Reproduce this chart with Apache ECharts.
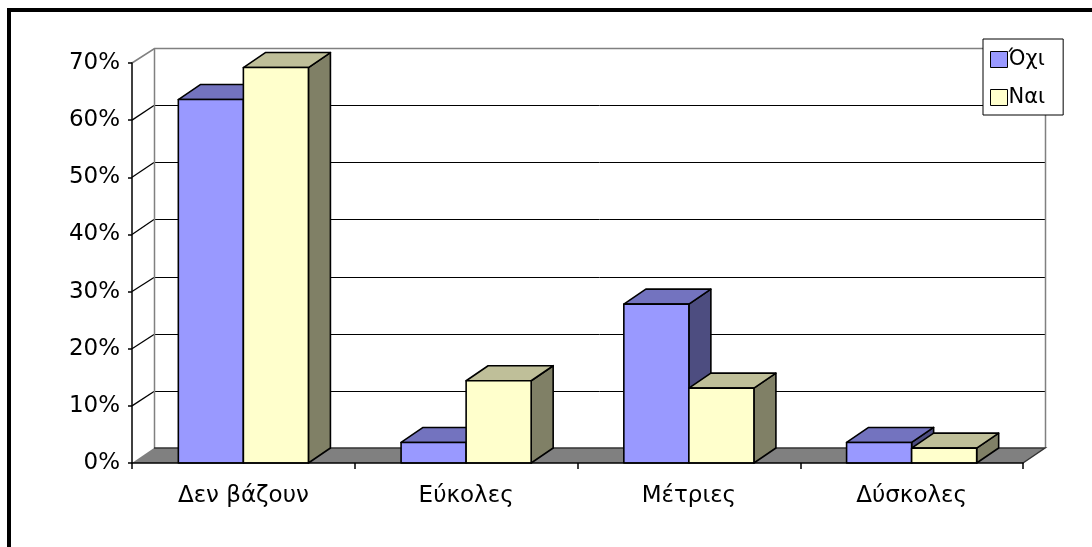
<!DOCTYPE html>
<html>
<head>
<meta charset="utf-8">
<script src="https://cdn.jsdelivr.net/npm/echarts@6/dist/echarts.min.js"></script>
<style>
  html, body { margin: 0; padding: 0; background: #fff; }
  #chart { width: 1092px; height: 547px; }
</style>
</head>
<body>
<div id="chart"></div>
<script>
// Categories and shares (percent) per answer
const categories = ['Δεν βάζουν', 'Εύκολες', 'Μέτριες', 'Δύσκολες'];
const seriesNames = ['Όχι', 'Ναι'];
const valuesOxi = [63.6, 3.6, 27.8, 3.6];
const valuesNai = [69.2, 14.4, 13.1, 2.6];
const yTickValues = [0, 10, 20, 30, 40, 50, 60, 70];

// 3D look: depth offset of the walls and bars
const DX = 22, DY = 15;
const BAR_FRACTION = 0.292;
const FONT = 'DejaVu Sans, Liberation Sans, sans-serif';

const palette = [
  { front: '#9999FF', top: '#7373BF', side: '#4D4D80' },
  { front: '#FFFFCC', top: '#BFBF99', side: '#808066' }
];

const crisp = v => Math.round(v) + 0.5;

function barRenderer(idx) {
  const c = palette[idx];
  return function (params, api) {
    const cat = api.value(0), val = api.value(1);
    const band = api.size([1, 0])[0];
    const bw = band * BAR_FRACTION;
    const base = api.coord([cat, 0]);
    const tp = api.coord([cat, val]);
    const x0 = base[0] - bw + idx * bw, x1 = x0 + bw;
    const yb = base[1], yt = tp[1];
    const stroke = { stroke: '#000', lineWidth: 1.6, lineJoin: 'round' };
    return {
      type: 'group',
      children: [
        { type: 'polygon', shape: { points: [[x1, yt], [x1 + DX, yt - DY], [x1 + DX, yb - DY], [x1, yb]] },
          style: Object.assign({ fill: c.side }, stroke) },
        { type: 'polygon', shape: { points: [[x0, yt], [x1, yt], [x1 + DX, yt - DY], [x0 + DX, yt - DY]] },
          style: Object.assign({ fill: c.top }, stroke) },
        { type: 'rect', shape: { x: x0, y: yt, width: bw, height: yb - yt },
          style: Object.assign({ fill: c.front }, stroke) }
      ]
    };
  };
}

// Back wall, side wall and floor of the plot box
function frameRenderer(params, api) {
  const cs = params.coordSys;
  const left = cs.x, right = cs.x + cs.width;
  const y0 = api.coord([0, yTickValues[0]])[1];
  const yTop = api.coord([0, yTickValues[yTickValues.length - 1]])[1];
  const children = [];
  // wall gridlines and side-wall slants
  yTickValues.slice(1, -1).forEach(v => {
    const y = api.coord([0, v])[1];
    const yb = crisp(y - DY);
    children.push({ type: 'line', shape: { x1: left, y1: y, x2: left + DX, y2: yb }, style: { stroke: '#000', lineWidth: 1.3 } });
    children.push({ type: 'line', shape: { x1: left + DX, y1: yb, x2: right + DX, y2: yb }, style: { stroke: '#000', lineWidth: 1 } });
  });
  // wall outline
  const xl = crisp(left + DX), xr = crisp(right + DX), yt = crisp(yTop - DY);
  children.push({ type: 'polyline', shape: { points: [[left, yTop], [xl, yt], [xr, yt], [xr, y0 - DY]] },
    style: { stroke: '#808080', lineWidth: 1.5, fill: null } });
  children.push({ type: 'line', shape: { x1: xl, y1: yt, x2: xl, y2: y0 - DY }, style: { stroke: '#808080', lineWidth: 1.5 } });
  // floor
  children.push({ type: 'polygon', shape: { points: [[left, y0], [right, y0], [right + DX, y0 - DY], [left + DX, y0 - DY]] },
    style: { fill: '#808080', stroke: null } });
  children.push({ type: 'polyline', shape: { points: [[left + DX, y0 - DY], [right + DX, y0 - DY], [right, y0]] },
    style: { stroke: '#333', lineWidth: 1.5, fill: null } });
  return { type: 'group', children: children };
}

const chart = echarts.init(document.getElementById('chart'), null, { renderer: 'canvas' });
chart.setOption({
  backgroundColor: '#fff',
  animation: false,
  graphic: [{
    type: 'rect', z: 100, silent: true,
    shape: { x: 9, y: 10, width: 1200, height: 1000 },
    style: { fill: null, stroke: '#000', lineWidth: 4 }
  }],
  grid: { left: 132, top: 63, width: 891, height: 400 },
  legend: {
    orient: 'vertical', left: 983, top: 39,
    backgroundColor: '#fff', borderColor: '#000', borderWidth: 1,
    padding: [10, 18, 7, 7], itemGap: 17, itemWidth: 17, itemHeight: 16,
    icon: 'rect',
    textStyle: { fontSize: 21, fontFamily: FONT, color: '#000', padding: [0, 0, 0, -4] },
    data: seriesNames.map(n => ({ name: n, itemStyle: { borderColor: '#000', borderWidth: 1 } }))
  },
  xAxis: {
    type: 'category', data: categories, z: 5,
    axisLine: { lineStyle: { color: '#000', width: 1.5 } },
    axisTick: { show: true, length: 6, lineStyle: { color: '#000', width: 1.5 } },
    axisLabel: { color: '#000', fontSize: 23, fontFamily: FONT, margin: 22 },
    splitLine: { show: false }
  },
  yAxis: {
    type: 'value', min: 0, max: 70, interval: 10, z: 5,
    axisLine: { show: true, lineStyle: { color: '#000', width: 1.5 } },
    axisTick: { show: true, length: 4, lineStyle: { color: '#000', width: 1.5 } },
    axisLabel: { color: '#000', fontSize: 23, fontFamily: FONT, margin: 12, formatter: '{value}%' },
    splitLine: { show: false }
  },
  series: [
    { type: 'custom', name: 'frame', z: 1, silent: true, renderItem: frameRenderer, data: [[0, 0]] },
    { type: 'custom', name: seriesNames[0], z: 2, renderItem: barRenderer(0),
      itemStyle: { color: palette[0].front },
      data: valuesOxi.map((v, i) => [i, v]) },
    { type: 'custom', name: seriesNames[1], z: 2, renderItem: barRenderer(1),
      itemStyle: { color: palette[1].front },
      data: valuesNai.map((v, i) => [i, v]) }
  ]
});
</script>
</body>
</html>
